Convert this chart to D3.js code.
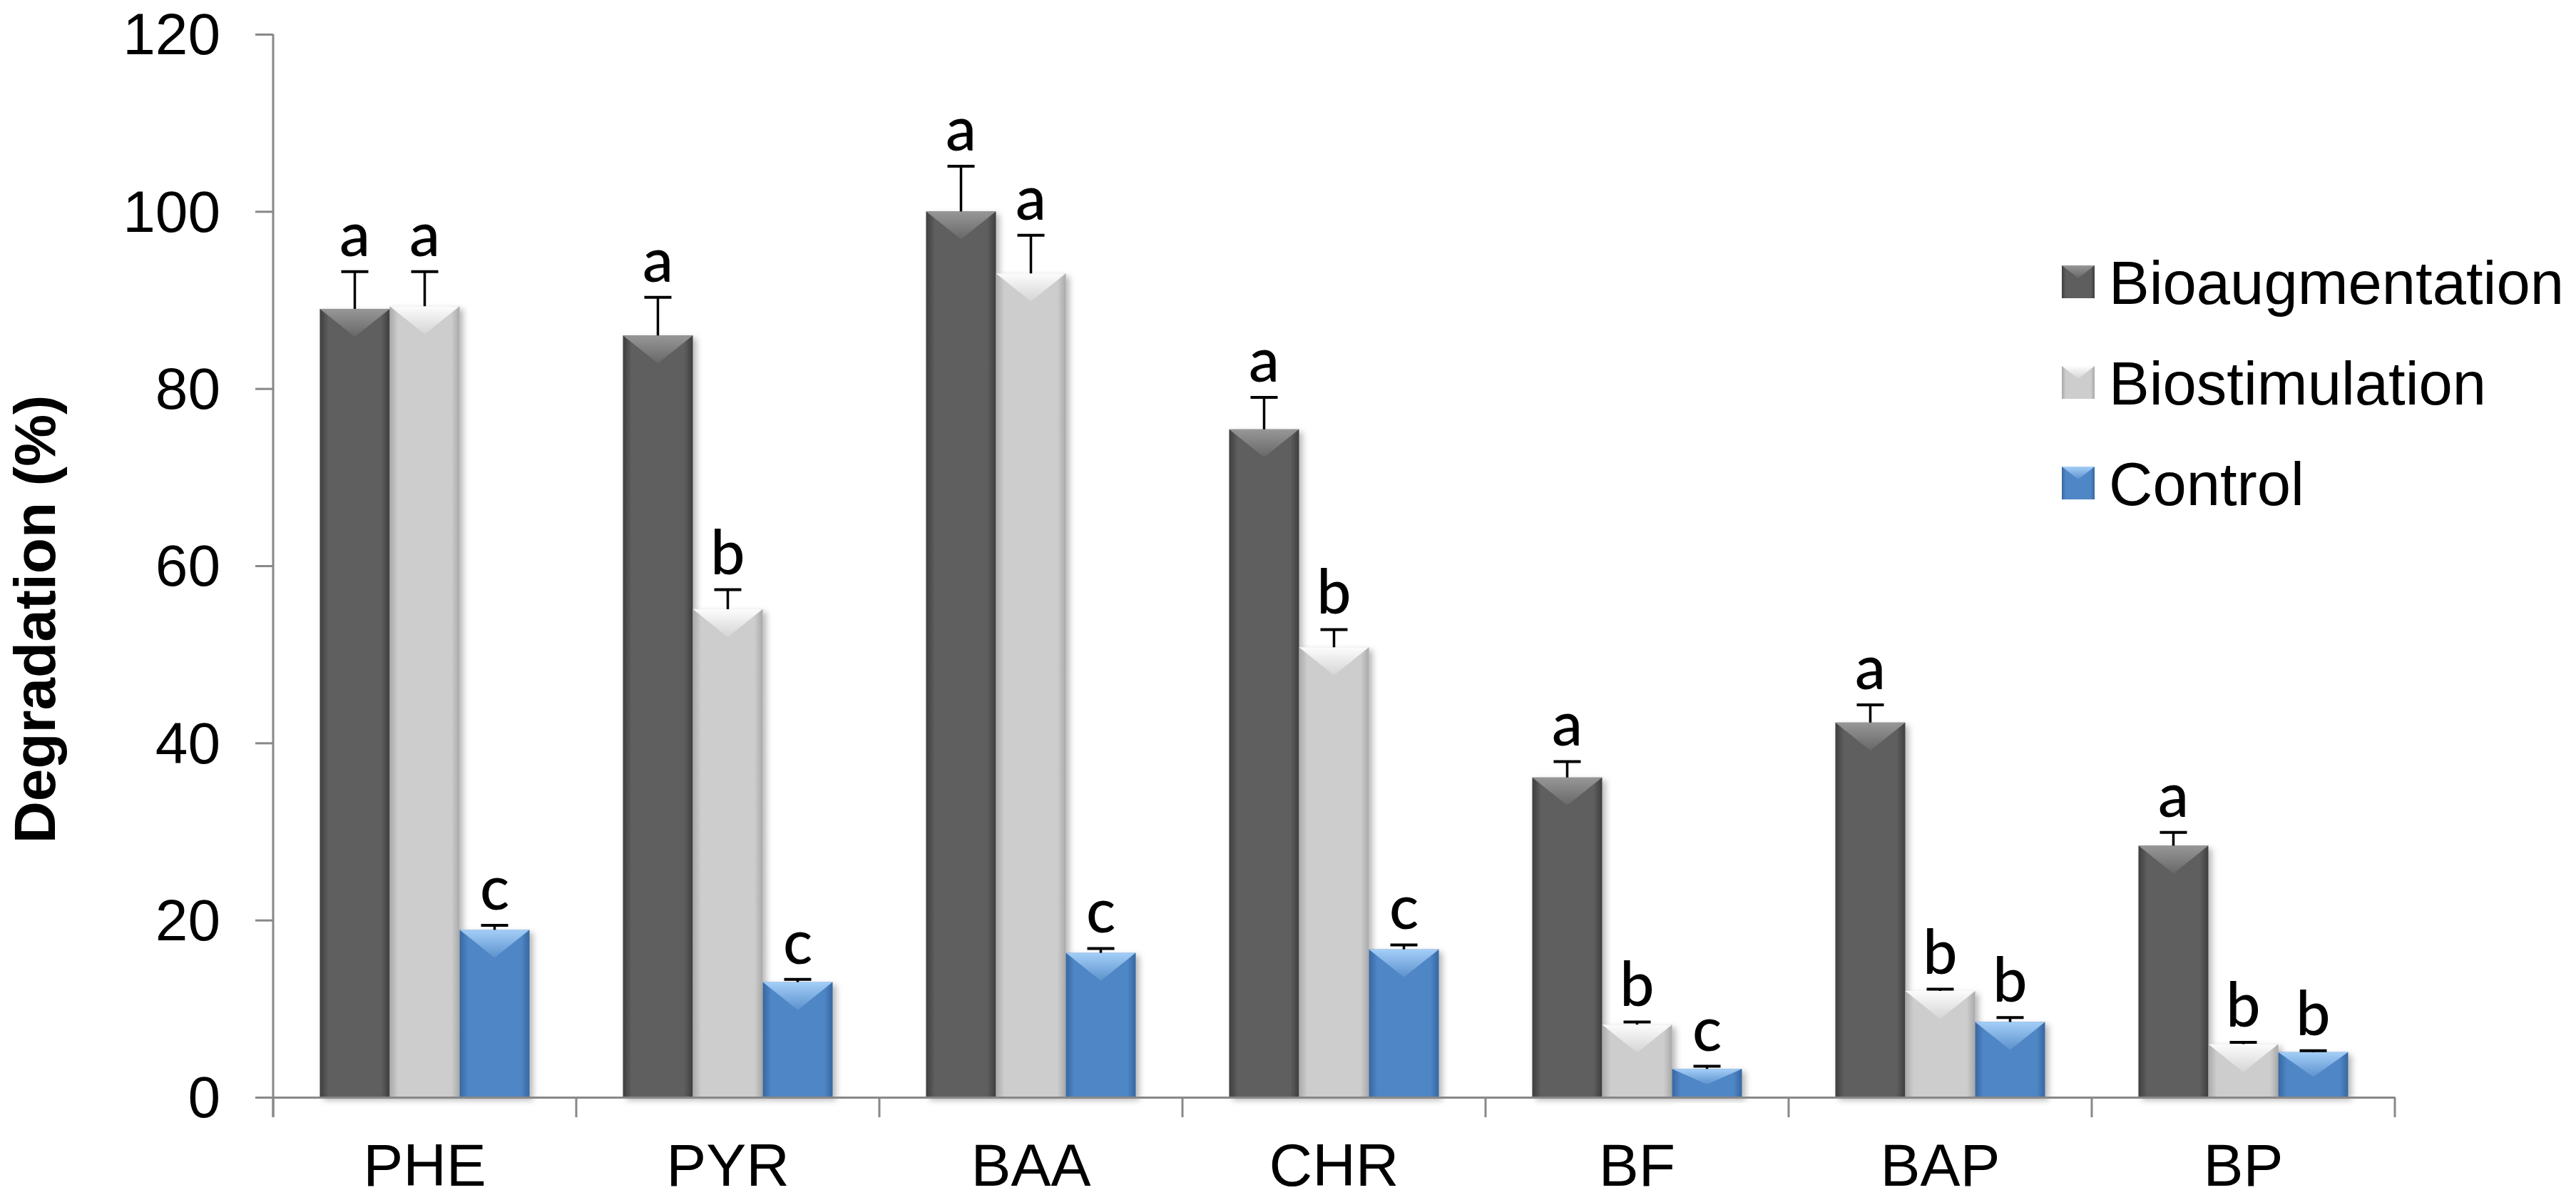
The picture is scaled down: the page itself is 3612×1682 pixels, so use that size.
<!DOCTYPE html>
<html lang="en">
<head>
<meta charset="UTF-8">
<title>Degradation (%)</title>
<script src="https://d3js.org/d3.v7.min.js"></script>
<style>
  html, body { margin: 0; padding: 0; background: #fff; }
  svg { display: block; }
</style>
</head>
<body>
<svg width="3612" height="1682"></svg>
<script>
  // chart values
  const categories = ["PHE", "PYR", "BAA", "CHR", "BF", "BAP", "BP"];
  const series = ["Bioaugmentation", "Biostimulation", "Control"];
  const bioaugmentation = [89.0, 86.0, 100.0, 75.4, 36.1, 42.3, 28.4];
  const bioaugmentationErr = [4.2, 4.3, 5.1, 3.6, 1.8, 2.0, 1.5];
  const biostimulation = [89.3, 55.1, 93.0, 50.8, 8.2, 12.0, 6.0];
  const biostimulationErr = [3.9, 2.2, 4.3, 2.0, 0.3, 0.2, 0.2];
  const control = [18.9, 13.0, 16.3, 16.7, 3.2, 8.5, 5.1];
  const controlErr = [0.5, 0.3, 0.5, 0.5, 0.3, 0.5, 0.15];
  const bioaugmentationLetters = ["a", "a", "a", "a", "a", "a", "a"];
  const biostimulationLetters = ["a", "b", "a", "b", "b", "b", "b"];
  const controlLetters = ["c", "c", "c", "c", "c", "b", "b"];
  const yTicks = [0, 20, 40, 60, 80, 100, 120];

  const values = [bioaugmentation, biostimulation, control];
  const errors = [bioaugmentationErr, biostimulationErr, controlErr];
  const letters = [bioaugmentationLetters, biostimulationLetters, controlLetters];

  // look of each series: edge, centre, highlight
  const looks = {
    Bioaugmentation: { edge: "#3e3e3e", mid: "#5e5e5e", hi: "#9a9a9a" },
    Biostimulation: { edge: "#a9a9a9", mid: "#cdcdcd", hi: "#ffffff" },
    Control: { edge: "#36679f", mid: "#4f86c6", hi: "#a8d2fa" }
  };

  const data = [];
  categories.forEach((c, i) => {
    series.forEach((s, j) => {
      data.push({ cat: c, key: s, value: values[j][i], err: errors[j][i], letter: letters[j][i] });
    });
  });

  const svg = d3.select("svg");
  const font = "'Liberation Sans', Arial, Helvetica, sans-serif";

  const x0 = d3.scaleBand().domain(categories).range([383, 3358]).padding(0);
  const x1 = d3.scaleBand().domain(series).range([0, x0.bandwidth()])
    .paddingInner(0).paddingOuter(0.668);
  const y = d3.scaleLinear().domain([0, 120]).range([1538, 48]);

  const defs = svg.append("defs");
  series.forEach((s, j) => {
    const L = looks[s];
    const g = defs.append("linearGradient").attr("id", "body" + j)
      .attr("x1", 0).attr("x2", 1).attr("y1", 0).attr("y2", 0);
    g.append("stop").attr("offset", "0%").attr("stop-color", L.edge);
    g.append("stop").attr("offset", "12%").attr("stop-color", L.mid);
    g.append("stop").attr("offset", "88%").attr("stop-color", L.mid);
    g.append("stop").attr("offset", "100%").attr("stop-color", L.edge);
    const h = defs.append("linearGradient").attr("id", "hi" + j)
      .attr("x1", 0).attr("x2", 0).attr("y1", 0).attr("y2", 1);
    h.append("stop").attr("offset", "0%").attr("stop-color", L.hi).attr("stop-opacity", 0.95);
    h.append("stop").attr("offset", "100%").attr("stop-color", L.hi).attr("stop-opacity", 0.15);
  });
  const shadow = defs.append("filter").attr("id", "shadow")
    .attr("x", "-20%").attr("y", "-10%").attr("width", "150%").attr("height", "130%");
  shadow.append("feDropShadow").attr("dx", 5).attr("dy", 4)
    .attr("stdDeviation", 4).attr("flood-color", "#000").attr("flood-opacity", 0.28);

  // bars
  const bw = x1.bandwidth();
  const bars = svg.append("g").selectAll("g.bar").data(data).join("g").attr("class", "bar")
    .attr("transform", d => `translate(${x0(d.cat) + x1(d.key)},0)`);

  bars.append("rect")
    .attr("x", 0).attr("width", bw)
    .attr("y", d => y(d.value)).attr("height", d => y(0) - y(d.value))
    .attr("fill", d => `url(#body${series.indexOf(d.key)})`)
    .attr("filter", "url(#shadow)");

  bars.append("path")
    .attr("d", d => {
      const top = y(d.value), h = y(0) - top;
      const depth = Math.min(bw * 0.4, h * 0.55);
      return `M0,${top} L${bw},${top} L${bw / 2},${top + depth} Z`;
    })
    .attr("fill", d => `url(#hi${series.indexOf(d.key)})`);

  // error bars
  const cap = 38;
  bars.append("line")
    .attr("x1", bw / 2).attr("x2", bw / 2)
    .attr("y1", d => y(d.value)).attr("y2", d => y(d.value + d.err))
    .attr("stroke", "#000").attr("stroke-width", 3.5);
  bars.append("line")
    .attr("x1", bw / 2 - cap / 2).attr("x2", bw / 2 + cap / 2)
    .attr("y1", d => y(d.value + d.err)).attr("y2", d => y(d.value + d.err))
    .attr("stroke", "#000").attr("stroke-width", 4);

  // significance letters
  bars.append("text")
    .attr("x", bw / 2).attr("y", d => y(d.value + d.err) - 22)
    .attr("text-anchor", "middle")
    .style("font-family", "Lato, 'Open Sans', sans-serif")
    .style("font-size", "86px")
    .style("font-weight", 500)
    .attr("fill", "#000")
    .text(d => d.letter);

  // y axis
  const yAxis = svg.append("g").attr("transform", "translate(383,0)")
    .call(d3.axisLeft(y).tickValues(yTicks).tickSize(25).tickPadding(49).tickSizeOuter(0));
  yAxis.select(".domain").attr("d", `M0,${y(120)}V${y(0) + 28}`);
  yAxis.selectAll("path, line").attr("stroke", "#888").attr("stroke-width", 3);
  yAxis.selectAll("text").style("font-family", font).style("font-size", "82px")
    .attr("fill", "#000").attr("dy", "0.34em");

  // x axis
  const xAxis = svg.append("g").attr("transform", `translate(0,${y(0)})`)
    .call(d3.axisBottom(x0).tickSize(0).tickPadding(64).tickSizeOuter(0));
  xAxis.select(".domain").attr("stroke", "#888").attr("stroke-width", 3);
  xAxis.selectAll("text").style("font-family", font).style("font-size", "84px")
    .attr("fill", "#000").attr("dy", "0.71em");

  const bounds = categories.map(c => x0(c)).concat([x0.range()[1]]);
  svg.append("g").selectAll("line").data(bounds).join("line")
    .attr("x1", d => d).attr("x2", d => d)
    .attr("y1", y(0)).attr("y2", y(0) + 28)
    .attr("stroke", "#888").attr("stroke-width", 3);

  // y title
  svg.append("text")
    .attr("transform", `translate(77,868) rotate(-90)`)
    .attr("text-anchor", "middle")
    .style("font-family", font).style("font-size", "82px").style("font-weight", "bold")
    .text("Degradation (%)");

  // legend
  const legend = svg.append("g").selectAll("g").data(series).join("g")
    .attr("transform", (d, i) => `translate(2891,${395 + i * 141})`);
  legend.append("rect")
    .attr("x", 0).attr("y", -23).attr("width", 46).attr("height", 46)
    .attr("fill", (d, i) => `url(#body${i})`);
  legend.append("path")
    .attr("d", "M0,-23 L46,-23 L23,-5 Z")
    .attr("fill", (d, i) => `url(#hi${i})`);
  legend.append("text")
    .attr("x", 66).attr("y", 0).attr("dy", "0.36em")
    .style("font-family", font).style("font-size", "85px")
    .attr("fill", "#000")
    .text(d => d);
</script>
</body>
</html>
